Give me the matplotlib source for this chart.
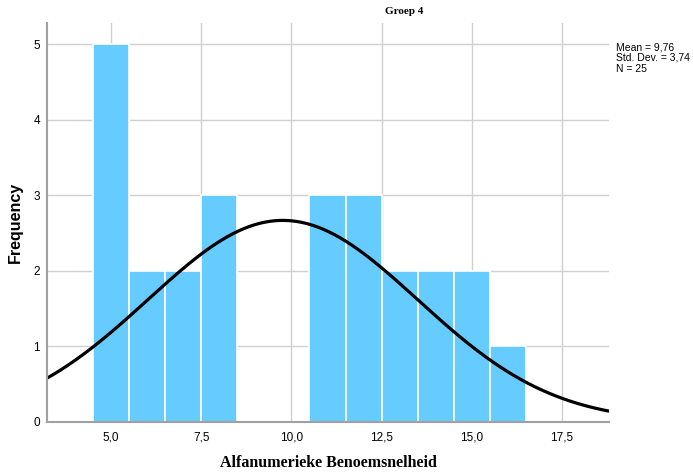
import numpy as np
import matplotlib
matplotlib.use("Agg")
import matplotlib.pyplot as plt

bin_centers = [5, 6, 7, 8, 9, 10, 11, 12, 13, 14, 15, 16]
counts = [5, 2, 2, 3, 0, 0, 3, 3, 2, 2, 2, 1]
mean, sd, n = 9.76, 3.74, 25
xticks = [5.0, 7.5, 10.0, 12.5, 15.0, 17.5]
xtick_labels = ["5,0", "7,5", "10,0", "12,5", "15,0", "17,5"]
yticks = [0, 1, 2, 3, 4, 5]

fig = plt.figure(figsize=(6.93, 4.74), dpi=100)
ax = fig.add_axes([47/693, 1-422/474, (609-47)/693, (422-23)/474])

ax.set_axisbelow(True)
ax.grid(True, color="#d0d0d0", linewidth=1.0)
ax.bar(bin_centers, counts, width=1.0, color="#66CCFF", edgecolor="white", linewidth=1.2)

xs = np.linspace(3.226, 18.8, 400)
ys = n * 1.0 / (sd * np.sqrt(2*np.pi)) * np.exp(-0.5*((xs-mean)/sd)**2)
ax.plot(xs, ys, color="black", linewidth=2.3)

ax.set_xlim(3.226, 18.8)
ax.set_ylim(0, 5.278)
ax.set_xticks(xticks)
ax.set_xticklabels(xtick_labels, family="Liberation Sans", fontsize=8.5)
ax.set_yticks(yticks)
ax.set_yticklabels([str(v) for v in yticks], family="Liberation Sans", fontsize=8.5)
ax.tick_params(axis="x", length=0, pad=7)
ax.tick_params(axis="y", length=0, pad=5)
for s in ["top", "right"]:
    ax.spines[s].set_visible(False)
for s in ["left", "bottom"]:
    ax.spines[s].set_color("#a0a0a0")
    ax.spines[s].set_linewidth(1.5)

fig.text(404/693, 1-12/474, "Groep 4", family="Liberation Serif", fontweight="bold",
         fontsize=8, ha="center", va="center")
fig.text(328/693, 1-463/474, "Alfanumerieke Benoemsnelheid", family="Liberation Serif",
         fontweight="bold", fontsize=11.5, ha="center", va="center")
fig.text(15/693, 1-222/474, "Frequency", family="Liberation Sans", fontweight="bold",
         fontsize=11.5, rotation=90, ha="center", va="center")
fig.text(616/693, 1-42/474, "Mean = 9,76\nStd. Dev. = 3,74\nN = 25", family="Liberation Sans",
         fontsize=7.5, ha="left", va="top", linespacing=1.12)

fig.savefig("out.png", dpi=100)
